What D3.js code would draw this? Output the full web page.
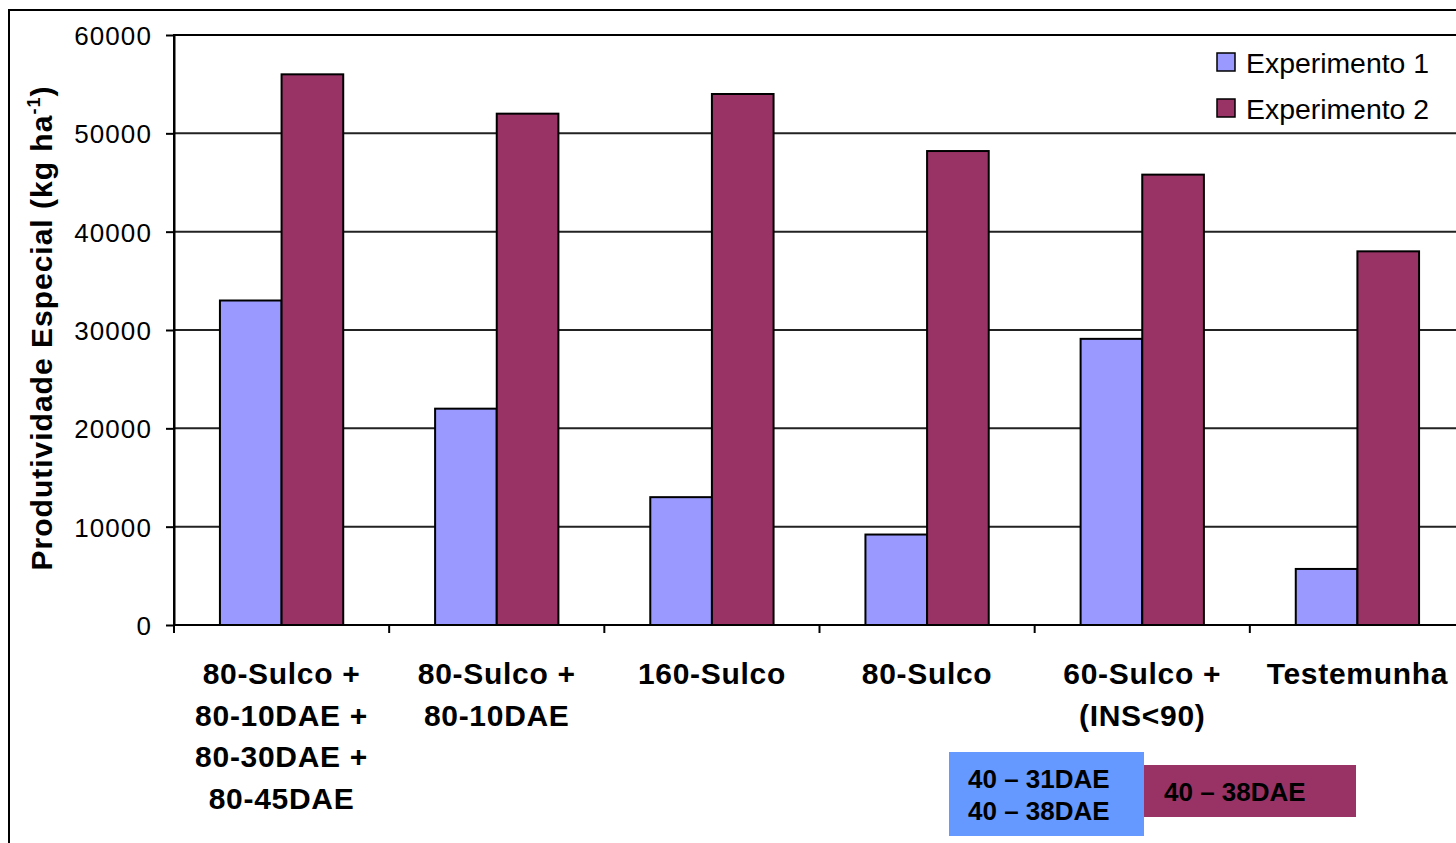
<!DOCTYPE html>
<html>
<head>
<meta charset="utf-8">
<script src="https://cdn.jsdelivr.net/npm/d3@7"></script>
<style>
  html, body { margin: 0; padding: 0; background: #fff; }
  svg { display: block; font-family: "Liberation Sans", Arial, sans-serif; }
</style>
</head>
<body>
<svg id="chart" width="1456" height="843"></svg>
<script>
// Treatments (x categories), with label lines
const categories = ["T1", "T2", "T3", "T4", "T5", "T6"];
const categoryLabels = [
  ["80-Sulco +", "80-10DAE +", "80-30DAE +", "80-45DAE"],
  ["80-Sulco +", "80-10DAE"],
  ["160-Sulco"],
  ["80-Sulco"],
  ["60-Sulco +", "(INS<90)"],
  ["Testemunha"]
];
const seriesNames = ["Experimento 1", "Experimento 2"];
const experimento1 = [33000, 22000, 13000, 9200, 29100, 5700];
const experimento2 = [56000, 52000, 54000, 48200, 45800, 38000];
const yTicks = [0, 10000, 20000, 30000, 40000, 50000, 60000];
const seriesColors = ["#9999FF", "#993366"];

const svg = d3.select("#chart");

// Chart frame
svg.append("rect")
  .attr("x", 9).attr("y", 10).attr("width", 1470).attr("height", 860)
  .attr("fill", "#fff").attr("stroke", "#000").attr("stroke-width", 2);

const plot = { left: 174, top: 35, right: 1465, bottom: 625 };

const x = d3.scaleBand().domain(categories).range([plot.left, plot.right]).padding(0);
const y = d3.scaleLinear().domain([0, 60000]).range([plot.bottom, plot.top]);
const xs = d3.scaleBand().domain(seriesNames)
  .range([x.bandwidth() * 0.2135, x.bandwidth() * 0.7865]).padding(0);

// Gridlines
svg.append("g")
  .selectAll("line")
  .data(yTicks.filter(d => d > 0))
  .join("line")
  .attr("x1", plot.left).attr("x2", plot.right)
  .attr("y1", d => y(d)).attr("y2", d => y(d))
  .attr("stroke", "#222").attr("stroke-width", 2);

// Plot area border
svg.append("rect")
  .attr("x", plot.left).attr("y", plot.top)
  .attr("width", plot.right - plot.left).attr("height", plot.bottom - plot.top)
  .attr("fill", "none").attr("stroke", "#000").attr("stroke-width", 2);

// Bars
const rows = categories.map((c, i) => ({ cat: c, values: [experimento1[i], experimento2[i]] }));
const groups = svg.append("g").selectAll("g")
  .data(rows).join("g")
  .attr("transform", d => `translate(${x(d.cat)},0)`);
groups.selectAll("rect")
  .data(d => d.values.map((v, j) => ({ name: seriesNames[j], v, j })))
  .join("rect")
  .attr("x", d => xs(d.name))
  .attr("width", xs.bandwidth())
  .attr("y", d => y(d.v))
  .attr("height", d => y(0) - y(d.v))
  .attr("fill", d => seriesColors[d.j])
  .attr("stroke", "#000").attr("stroke-width", 2);

// Y axis
const yAxis = svg.append("g")
  .attr("transform", `translate(${plot.left},0)`)
  .call(d3.axisLeft(y).tickValues(yTicks).tickSize(8).tickSizeOuter(0).tickPadding(14).tickFormat(d3.format("d")));
yAxis.select(".domain").attr("stroke", "#000").attr("stroke-width", 2);
yAxis.selectAll(".tick line").attr("stroke", "#000").attr("stroke-width", 2);
yAxis.selectAll(".tick text")
  .attr("font-size", 26).attr("letter-spacing", "1.1px")
  .attr("font-family", "'Liberation Sans', Arial, sans-serif")
  .attr("fill", "#000").attr("dy", "0.36em");

// X axis line and boundary ticks
svg.append("line")
  .attr("x1", plot.left).attr("x2", plot.right)
  .attr("y1", y(0)).attr("y2", y(0))
  .attr("stroke", "#000").attr("stroke-width", 2);
svg.append("g").selectAll("line")
  .data(categories)
  .join("line")
  .attr("x1", d => x(d)).attr("x2", d => x(d))
  .attr("y1", y(0)).attr("y2", y(0) + 8)
  .attr("stroke", "#000").attr("stroke-width", 2);

// Category labels
const catText = svg.append("g").selectAll("text")
  .data(categories)
  .join("text")
  .attr("x", d => x(d) + x.bandwidth() / 2)
  .attr("y", 684)
  .attr("text-anchor", "middle")
  .attr("font-size", 30).attr("font-weight", "bold").attr("letter-spacing", "0.7px")
  .attr("fill", "#000");
catText.each(function(d, i) {
  d3.select(this).selectAll("tspan")
    .data(categoryLabels[i])
    .join("tspan")
    .attr("x", x(d) + x.bandwidth() / 2)
    .attr("dy", (t, k) => k === 0 ? 0 : 41.7)
    .text(t => t);
});

// Y axis title
const yTitle = svg.append("text")
  .attr("transform", "translate(52,328) rotate(-90)")
  .attr("text-anchor", "middle")
  .attr("font-size", 30).attr("font-weight", "bold").attr("letter-spacing", "1px")
  .attr("fill", "#000");
yTitle.append("tspan").text("Produtividade Especial (kg ha");
yTitle.append("tspan").attr("font-size", 18).attr("dy", -12).text("-1");
yTitle.append("tspan").attr("dy", 12).text(")");

// Legend
const legend = svg.append("g").attr("transform", "translate(1217,53)");
const li = legend.selectAll("g").data(seriesNames).join("g")
  .attr("transform", (d, i) => `translate(0,${i * 46})`);
li.append("rect")
  .attr("width", 18).attr("height", 18)
  .attr("fill", (d, i) => seriesColors[i])
  .attr("stroke", "#000").attr("stroke-width", 1.5);
li.append("text")
  .attr("x", 29).attr("y", 20)
  .attr("font-size", 28.4).attr("fill", "#000")
  .text(d => d);

// Application timing boxes
const notes = [
  { x: 949, y: 752, w: 195, h: 84, fill: "#6699FF", lines: ["40 – 31DAE", "40 – 38DAE"], tx: 968, ty: 788 },
  { x: 1144, y: 765, w: 212, h: 52, fill: "#993366", lines: ["40 – 38DAE"], tx: 1164, ty: 801 }
];
const ng = svg.append("g").selectAll("g").data(notes).join("g");
ng.append("rect")
  .attr("x", d => d.x).attr("y", d => d.y)
  .attr("width", d => d.w).attr("height", d => d.h)
  .attr("fill", d => d.fill);
ng.append("text")
  .attr("font-size", 26).attr("font-weight", "bold").attr("fill", "#000")
  .each(function(d) {
    d3.select(this).selectAll("tspan").data(d.lines).join("tspan")
      .attr("x", d.tx).attr("y", (t, k) => d.ty + k * 32)
      .text(t => t);
  });
</script>
</body>
</html>
